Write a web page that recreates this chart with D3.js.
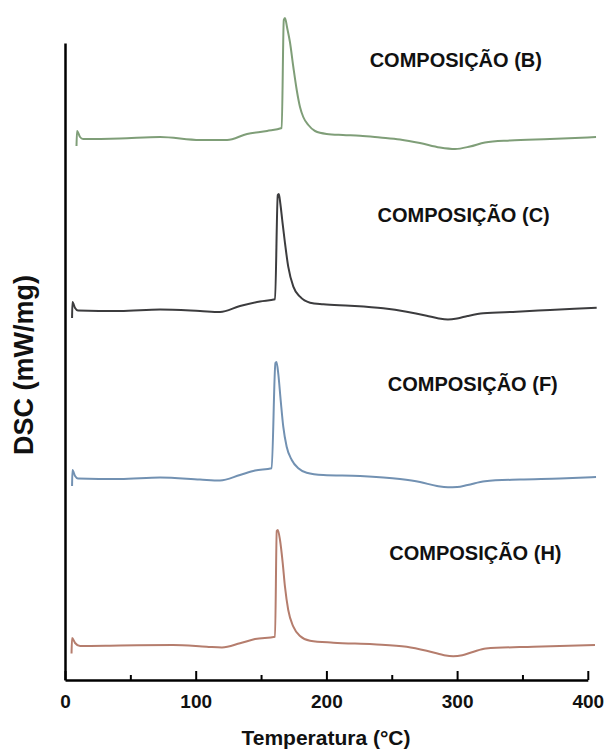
<!DOCTYPE html>
<html>
<head>
<meta charset="utf-8">
<script src="https://cdn.jsdelivr.net/npm/d3@7"></script>
<style>
  html, body { margin: 0; padding: 0; background: #fff; }
  svg { display: block; }
  text { font-family: "Liberation Sans", Arial, sans-serif; }
</style>
</head>
<body>
<svg id="chart" width="605" height="752"></svg>
<script>
// DSC thermograms, stacked vertically (temperature in °C, heat flow in mW/mg with offsets)
const xTicksMajor = [0, 100, 200, 300, 400];
const xTicksMinor = [50, 150, 250, 350];

const tempB = [8.8, 9.2, 11.5, 13.8, 42.1, 72.7, 103.3, 124, 139.3, 154.6, 165.8, 167.4, 168.3, 170.0, 172.1, 174.7, 177.3, 179.8, 182.3, 186.2, 191.3, 200.2, 212.7, 225.7, 241, 256.3, 271.6, 286.9, 298.4, 309.9, 321.3, 340.5, 371.1, 406.3];
const dscB  = [5.34, 5.49, 5.43, 5.41, 5.415, 5.43, 5.40, 5.40, 5.46, 5.49, 5.52, 6.60, 6.62, 6.52, 6.38, 6.13, 5.90, 5.73, 5.63, 5.55, 5.49, 5.46, 5.45, 5.443, 5.425, 5.405, 5.37, 5.325, 5.31, 5.335, 5.375, 5.395, 5.41, 5.43];

const tempC = [5.4, 5.7, 7.7, 9.9, 42.1, 72.7, 103.3, 118.6, 133.9, 149.2, 160.7, 162.8, 163.6, 164.8, 166.2, 168.3, 170.8, 174.7, 179.8, 187.5, 197.6, 218.1, 243.5, 261.4, 276.7, 286.0, 293.0, 300.0, 308.0, 320, 345.6, 371.1, 406.8];
const dscC  = [3.62, 3.78, 3.72, 3.695, 3.69, 3.705, 3.69, 3.68, 3.74, 3.785, 3.807, 4.85, 4.86, 4.76, 4.60, 4.37, 4.133, 3.933, 3.833, 3.773, 3.757, 3.743, 3.717, 3.683, 3.643, 3.615, 3.605, 3.615, 3.64, 3.668, 3.683, 3.70, 3.723];

const tempF = [5.4, 5.7, 7.7, 9.9, 42.1, 72.7, 103.3, 118.6, 133.9, 145.4, 158.1, 161.0, 161.8, 163.2, 165, 167, 169.6, 173.5, 178.5, 184.9, 197.6, 225.7, 256.3, 271.6, 284.6, 293.0, 300.0, 308.0, 321.3, 348.1, 378.7, 406.3];
const dscF  = [1.94, 2.10, 2.04, 2.015, 2.01, 2.025, 2.005, 1.995, 2.05, 2.095, 2.117, 3.17, 3.18, 3.06, 2.80, 2.533, 2.333, 2.20, 2.117, 2.073, 2.05, 2.04, 2.01, 1.98, 1.94, 1.927, 1.93, 1.95, 1.988, 2.005, 2.015, 2.03];

const tempH = [5.0, 5.4, 7.7, 11.5, 42.1, 82.6, 108.4, 120.1, 133.9, 145.4, 160.7, 162.0, 162.8, 164.5, 166.6, 168.3, 170.8, 174.7, 179.8, 187.5, 205.3, 235.9, 261.4, 276.7, 289.4, 297.0, 304.0, 312.0, 322.0, 358.3, 405.5];
const dscH  = [0.265, 0.42, 0.37, 0.34, 0.345, 0.35, 0.333, 0.325, 0.367, 0.41, 0.433, 1.49, 1.50, 1.40, 1.167, 0.933, 0.70, 0.533, 0.44, 0.393, 0.373, 0.357, 0.333, 0.293, 0.25, 0.238, 0.248, 0.28, 0.315, 0.333, 0.35];

const seriesNames  = ["COMPOSIÇÃO (B)", "COMPOSIÇÃO (C)", "COMPOSIÇÃO (F)", "COMPOSIÇÃO (H)"];
const seriesColors = ["#7f9e78", "#3c3c3e", "#7291b2", "#b57d6d"];
// label anchor points in data space (temperature, heat flow)
const labelTemp = [299, 305, 312, 314];
const labelDsc  = [6.13, 4.58, 2.89, 1.20];

const series = [
  { temp: tempB, dsc: dscB },
  { temp: tempC, dsc: dscC },
  { temp: tempF, dsc: dscF },
  { temp: tempH, dsc: dscH }
].map((s, i) => ({
  name: seriesNames[i],
  color: seriesColors[i],
  points: s.temp.map((t, j) => [t, s.dsc[j]]),
  lx: labelTemp[i],
  ly: labelDsc[i]
}));

const svg = d3.select("#chart");
const x = d3.scaleLinear().domain([0, 400]).range([65, 587.8]);
const y = d3.scaleLinear().domain([0, 6.37]).range([680, 43]);

// curves
const line = d3.line()
  .x(d => x(d[0]))
  .y(d => y(d[1]))
  .curve(d3.curveMonotoneX);

svg.append("g").selectAll("path")
  .data(series)
  .join("path")
  .attr("d", d => line(d.points))
  .attr("fill", "none")
  .attr("stroke", d => d.color)
  .attr("stroke-width", 2)
  .attr("stroke-linejoin", "round");

// series labels
svg.append("g").selectAll("text")
  .data(series)
  .join("text")
  .attr("x", d => x(d.lx))
  .attr("y", d => y(d.ly))
  .attr("text-anchor", "middle")
  .attr("font-size", 20)
  .attr("font-weight", "bold")
  .attr("fill", "#111")
  .text(d => d.name);

// x axis: major ticks with labels, minor ticks without, all pointing inward
const xAxis = svg.append("g").attr("transform", `translate(0,${y(0)})`);
xAxis.call(d3.axisBottom(x).tickValues(xTicksMajor).tickSizeInner(-9).tickSizeOuter(0).tickPadding(15).tickFormat(d3.format("d")));
xAxis.select(".domain").attr("stroke", "#000").attr("stroke-width", 2.5);
xAxis.selectAll(".tick line").attr("stroke", "#000").attr("stroke-width", 2);
xAxis.selectAll(".tick text")
  .attr("font-size", 19)
  .attr("font-weight", "bold")
  .attr("fill", "#111")
  .attr("font-family", "'Liberation Sans', Arial, sans-serif");

const xMinor = svg.append("g").attr("transform", `translate(0,${y(0)})`);
xMinor.call(d3.axisBottom(x).tickValues(xTicksMinor).tickSizeInner(-5).tickSizeOuter(0).tickFormat(""));
xMinor.select(".domain").remove();
xMinor.selectAll(".tick line").attr("stroke", "#000").attr("stroke-width", 2);

// y axis: plain line, no ticks
const yAxis = svg.append("g").attr("transform", `translate(${x(0)},0)`);
yAxis.call(d3.axisLeft(y).tickValues([]).tickSizeOuter(0));
yAxis.select(".domain").attr("stroke", "#000").attr("stroke-width", 2.5);

// axis titles
svg.append("text")
  .attr("x", 326)
  .attr("y", 745)
  .attr("text-anchor", "middle")
  .attr("font-size", 21)
  .attr("font-weight", "bold")
  .attr("fill", "#111")
  .text("Temperatura (°C)");

svg.append("text")
  .attr("transform", "translate(33,365) rotate(-90)")
  .attr("text-anchor", "middle")
  .attr("font-size", 27)
  .attr("font-weight", "bold")
  .attr("fill", "#111")
  .text("DSC (mW/mg)");
</script>
</body>
</html>
